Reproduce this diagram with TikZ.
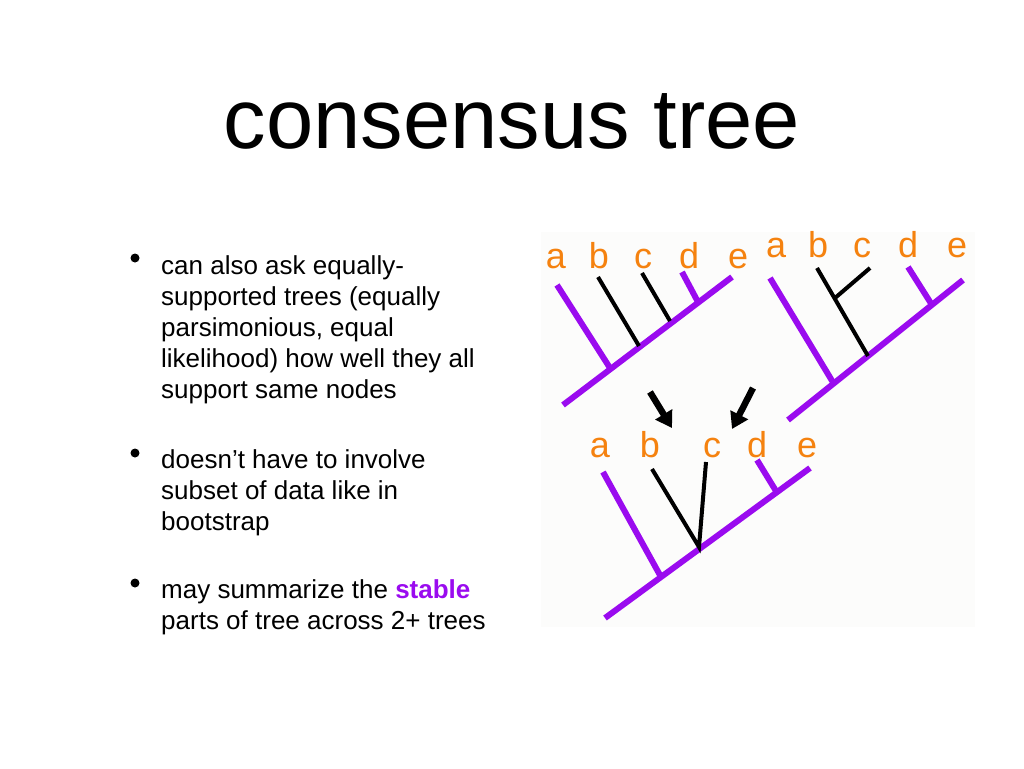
\documentclass[tikz,border=0pt]{standalone}
\usepackage{fontspec}
\setmainfont{Liberation Sans}
\usetikzlibrary{arrows.meta,positioning}
\definecolor{ctink}{HTML}{000000}
\definecolor{ctpurple}{HTML}{9A0BEF}
\definecolor{ctorange}{HTML}{F5820F}
\definecolor{ctpale}{HTML}{FCFCFB}
\tikzset{
  ct title/.style={font=\fontsize{85}{100}\selectfont, text=ctink, anchor=base, inner sep=0pt},
  ct item/.style={font=\fontsize{26}{31}\selectfont, text=ctink, align=left,
    anchor=north west, inner sep=0pt},
  ct bullet/.style={circle, fill=ctink, inner sep=0pt, minimum size=9pt},
  ct leaf/.style={font=\fontsize{36}{40}\selectfont, text=ctorange, anchor=base, inner sep=0pt},
  ct stable/.style={line width=6pt, draw=ctpurple, line cap=butt},
  ct loose/.style={line width=4pt, draw=ctink, line cap=butt},
  ct arrow/.style={-{Triangle[length=16pt,width=19pt]}, line width=6.5pt, draw=ctink}
}

\begin{document}
\begin{tikzpicture}[x=1pt, y=-1pt]
  \useasboundingbox (0,0) rectangle (1024,768);
  \fill[ctpale] (541,232) rectangle (975,627);

  % title
  \node[ct title] (title) at (512,148) {consensus tree};

  % bullet list
  \node[ct bullet] (b1) at (135,258) {};
  \node[ct bullet] (b2) at (135,453) {};
  \node[ct bullet] (b3) at (135,583) {};
  \node[ct item] (t1) at (161,255.5) {can also ask equally-\\supported trees (equally\\parsimonious, equal\\likelihood) how well they all\\support same nodes};
  \node[ct item] (t2) at (161,449.5) {doesn't have to involve\\subset of data like in\\bootstrap};
  \node[ct item] (t3) at (161,579.5) {may summarize the \textcolor{ctpurple}{\textbf{stable}}\\parts of tree across 2+ trees};

  % first tree
  \node[ct leaf] (la1) at (556,268) {a};
  \node[ct leaf] (lb1) at (599,268) {b};
  \node[ct leaf] (lc1) at (643,268) {c};
  \node[ct leaf] (ld1) at (689,268) {d};
  \node[ct leaf] (le1) at (738,268) {e};
  \coordinate (r1) at (563,405);
  \coordinate (e1) at (732,277);
  \coordinate (ja1) at (610,368);
  \coordinate (jb1) at (639,346);
  \coordinate (jc1) at (670,321);
  \coordinate (jd1) at (698,302);
  \draw[ct stable] (r1) -- (e1);
  \draw[ct stable] (557,285) -- (ja1);
  \draw[ct loose] (598,277) -- (jb1);
  \draw[ct loose] (642,273) -- (jc1);
  \draw[ct stable] (682,272) -- (jd1);

  % second tree
  \node[ct leaf] (la2) at (776,257) {a};
  \node[ct leaf] (lb2) at (818,257) {b};
  \node[ct leaf] (lc2) at (862,257) {c};
  \node[ct leaf] (ld2) at (908,257) {d};
  \node[ct leaf] (le2) at (957,257) {e};
  \coordinate (r2) at (788,420);
  \coordinate (e2) at (963,280);
  \coordinate (ja2) at (834,384);
  \coordinate (jb2) at (868,356);
  \coordinate (jc2) at (835,298);
  \coordinate (jd2) at (932,305);
  \draw[ct stable] (r2) -- (e2);
  \draw[ct stable] (770,278) -- (ja2);
  \draw[ct loose] (817,268) -- (jb2);
  \draw[ct loose] (870,268) -- (jc2);
  \draw[ct stable] (908,267) -- (jd2);

  % arrows to the consensus
  \coordinate (af1) at (650,392);
  \coordinate (at1) at (672,428);
  \coordinate (af2) at (753,388);
  \coordinate (at2) at (732,429);
  \draw[ct arrow] (af1) -- (at1);
  \draw[ct arrow] (af2) -- (at2);

  % consensus tree
  \node[ct leaf] (la3) at (600,457) {a};
  \node[ct leaf] (lb3) at (650,457) {b};
  \node[ct leaf] (lc3) at (712,457) {c};
  \node[ct leaf] (ld3) at (757,457) {d};
  \node[ct leaf] (le3) at (807,457) {e};
  \coordinate (r3) at (605,618);
  \coordinate (e3) at (810,468);
  \coordinate (ja3) at (661,577);
  \coordinate (jbc3) at (699,547);
  \coordinate (jd3) at (776,491);
  \draw[ct stable] (r3) -- (e3);
  \draw[ct stable] (603,472) -- (ja3);
  \draw[ct loose] (652,469) -- (jbc3) -- (706,462);
  \draw[ct stable] (757,460) -- (jd3);
\end{tikzpicture}
\end{document}
